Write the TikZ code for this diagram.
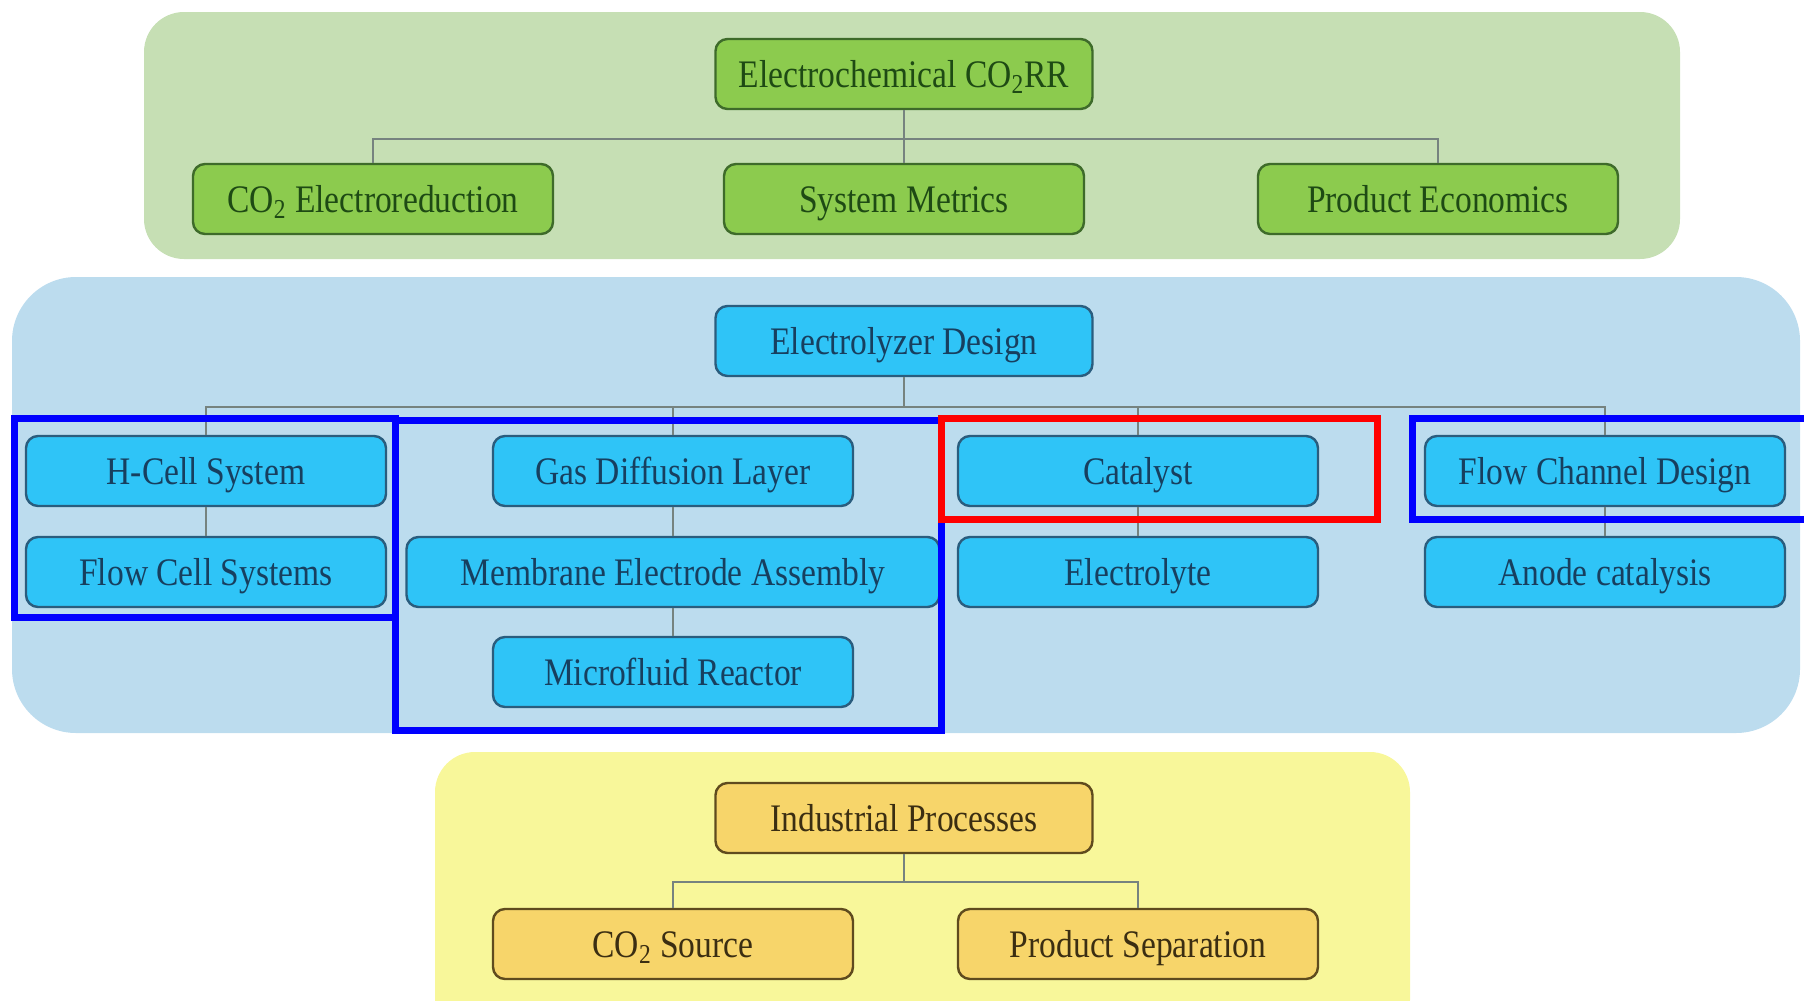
\documentclass[tikz,border=0pt]{standalone}
\usepackage{fontspec}
\setmainfont{Liberation Serif}[FakeStretch=0.86]

\definecolor{bandgreen}{HTML}{C6DFB4}
\definecolor{bandblue}{HTML}{BCDCEE}
\definecolor{bandyellow}{HTML}{F8F79A}
\definecolor{fillgreen}{HTML}{8CCB4E}
\definecolor{edgegreen}{HTML}{3E6B2A}
\definecolor{textgreen}{HTML}{1E4A14}
\definecolor{fillblue}{HTML}{2FC4F7}
\definecolor{edgeblue}{HTML}{2A5D7E}
\definecolor{textblue}{HTML}{173F5F}
\definecolor{fillyellow}{HTML}{F7D56A}
\definecolor{edgeyellow}{HTML}{5F4B1E}
\definecolor{textyellow}{HTML}{3B2E12}
\definecolor{linkgray}{HTML}{76837F}
\definecolor{hiblue}{HTML}{0000FF}
\definecolor{hired}{HTML}{FF0000}

\begin{document}
\begin{tikzpicture}[x=0.5pt, y=-0.5pt,
  box/.style={rounded corners=6pt, line width=1.2pt, minimum height=35pt,
    minimum width=180pt, inner sep=0pt, text height=13pt, text depth=0pt,
    font=\fontsize{19.5}{21}\selectfont},
  gbox/.style={box, fill=fillgreen, draw=edgegreen, text=textgreen},
  bbox/.style={box, fill=fillblue, draw=edgeblue, text=textblue},
  ybox/.style={box, fill=fillyellow, draw=edgeyellow, text=textyellow},
  head/.style={minimum width=188.5pt},
  link/.style={draw=linkgray, line width=0.8pt},
  hilite/.style={line width=3.5pt}]
\useasboundingbox (0,0) rectangle (1804,1001);

\fill[bandgreen, rounded corners=20pt] (144,12) rectangle (1680,259);
\fill[bandblue, rounded corners=32pt] (12,277) rectangle (1800,733);
\fill[bandyellow, rounded corners=20pt] (435,752) rectangle (1410,1040);

\node[gbox, head] (ec) at (904,74) {Electrochemical CO\textsubscript{2}RR};
\node[gbox] (co2e) at (373,199) {CO\textsubscript{2} Electroreduction};
\node[gbox] (sm) at (904,199) {System Metrics};
\node[gbox] (pe) at (1438,199) {Product Economics};
\coordinate (gj) at (904,139);
\draw[link] (ec) -- (gj) -| (co2e);
\draw[link] (gj) -| (pe);
\draw[link] (gj) -- (sm);

\node[bbox, head] (ed) at (904,341) {Electrolyzer Design};
\node[bbox] (hcell) at (206,471) {H-Cell System};
\node[bbox] (fcell) at (206,572) {Flow Cell Systems};
\node[bbox] (gdl) at (673,471) {Gas Diffusion Layer};
\node[bbox, minimum width=266.5pt] (mea) at (673,572) {Membrane Electrode Assembly};
\node[bbox] (mfr) at (673,672) {Microfluid Reactor};
\node[bbox] (cat) at (1138,471) {Catalyst};
\node[bbox] (elyte) at (1138,572) {Electrolyte};
\node[bbox] (fcd) at (1605,471) {Flow Channel Design};
\node[bbox] (anode) at (1605,572) {Anode catalysis};
\coordinate (bj) at (904,407);
\draw[link] (ed) -- (bj);
\draw[link] (bj) -| (hcell);
\draw[link] (bj) -| (gdl);
\draw[link] (bj) -| (cat);
\draw[link] (bj) -| (fcd);
\draw[link] (hcell) -- (fcell);
\draw[link] (gdl) -- (mea);
\draw[link] (mea) -- (mfr);
\draw[link] (cat) -- (elyte);
\draw[link] (fcd) -- (anode);

\node[ybox, head] (ip) at (904,818) {Industrial Processes};
\node[ybox] (src) at (673,944) {CO\textsubscript{2} Source};
\node[ybox] (sep) at (1138,944) {Product Separation};
\coordinate (yj) at (904,882);
\draw[link] (ip) -- (yj) -| (src);
\draw[link] (yj) -| (sep);

\draw[hilite, hiblue] (14.5,418) rectangle (395,617);
\draw[hilite, hiblue] (395,420) rectangle (941,730);
\draw[hilite, hired] (941,418) rectangle (1377,519);
\draw[hilite, hiblue] (1412,418) rectangle (1830,519);
\end{tikzpicture}
\end{document}
